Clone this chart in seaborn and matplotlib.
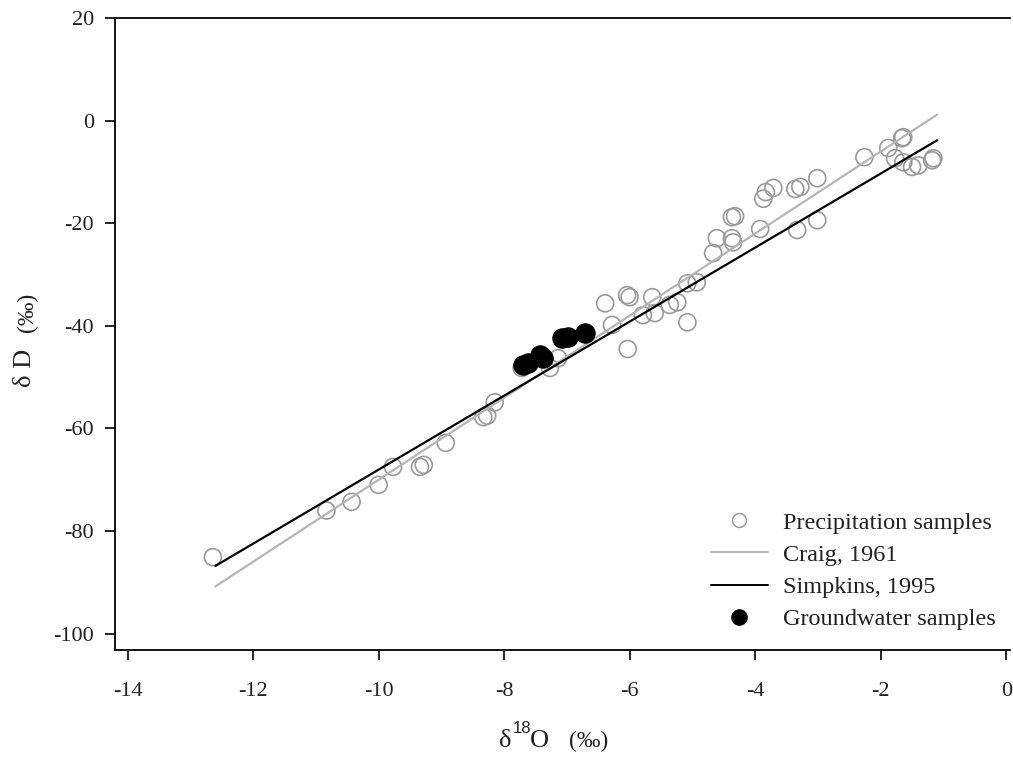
import matplotlib
matplotlib.use("Agg")
import matplotlib.pyplot as plt
import seaborn as sns
import pandas as pd
from matplotlib.lines import Line2D

# Precipitation samples (d18O, dD)
precip_o18 = [-12.64, -10.83, -10.43, -10.0, -9.77, -9.34, -9.28, -8.93, -8.33, -8.27,
              -8.15, -7.72, -7.27, -7.14, -6.39, -6.28, -6.03, -6.04, -6.0, -5.64,
              -5.79, -5.6, -5.36, -5.24, -5.08, -4.93, -5.08, -4.67, -4.61, -4.37,
              -4.37, -4.32, -4.35, -3.92, -3.87, -3.83, -3.71, -3.33, -3.36, -3.28,
              -3.01, -3.01, -2.26, -1.88, -1.77, -1.66, -1.64, -1.64, -1.5, -1.4,
              -1.18, -1.16]
precip_d = [-85.1, -76.0, -74.3, -71.0, -67.5, -67.5, -67.1, -62.8, -57.8, -57.5,
            -54.9, -48.2, -48.2, -46.3, -35.6, -39.8, -44.5, -34.0, -34.4, -34.4,
            -37.9, -37.5, -35.9, -35.4, -39.3, -31.5, -31.7, -25.8, -22.9, -22.9,
            -18.8, -18.6, -23.7, -21.1, -15.2, -13.9, -13.1, -21.3, -13.3, -12.9,
            -19.4, -11.2, -7.1, -5.3, -7.3, -3.4, -3.2, -8.1, -9.0, -8.7,
            -7.7, -7.3]

# Groundwater samples
gw_o18 = [-7.70, -7.62, -7.43, -7.38, -7.08, -6.98, -6.71]
gw_d = [-47.6, -47.3, -45.7, -46.3, -42.4, -42.2, -41.4]

# Meteoric water lines (end points as drawn)
craig_o18 = [-12.6, -1.1]
craig_d = [-90.8, 1.2]
simpkins_o18 = [-12.6, -1.1]
simpkins_d = [-86.8, -3.8]

sns.set_theme(style="ticks")
plt.rcParams['font.family'] = ['Liberation Serif', 'DejaVu Serif']
plt.rcParams['axes.unicode_minus'] = False

fig = plt.figure(figsize=(10.13, 7.59), dpi=100)
ax = fig.add_axes([0.1135, 0.1436, 0.8835, 0.8324])

precip = pd.DataFrame({'o18': precip_o18, 'd': precip_d})
gw = pd.DataFrame({'o18': gw_o18, 'd': gw_d})
craig = pd.DataFrame({'o18': craig_o18, 'd': craig_d})
simp = pd.DataFrame({'o18': simpkins_o18, 'd': simpkins_d})

sns.scatterplot(data=precip, x='o18', y='d', marker='o', s=150,
                facecolor='none', edgecolor='#9a9a9a', linewidth=1.2, ax=ax, zorder=2)
sns.lineplot(data=craig, x='o18', y='d', color='#b5b5b5', linewidth=1.6, ax=ax, zorder=3)
sns.lineplot(data=simp, x='o18', y='d', color='black', linewidth=1.6, ax=ax, zorder=4)
sns.scatterplot(data=gw, x='o18', y='d', marker='o', s=200,
                color='black', edgecolor='black', linewidth=0.5, ax=ax, zorder=5)

ax.set_xlim(-14.2, 0.06)
ax.set_ylim(-103.2, 20)
ax.set_xticks(range(-14, 1, 2))
ax.set_yticks(range(-100, 21, 20))
ax.tick_params(direction='out', length=7, width=1.2, labelsize=16, color='black',
               labelcolor='#222222', pad=8)
ax.tick_params(axis='x', pad=16)
for side in ['left', 'bottom', 'top']:
    ax.spines[side].set_linewidth(1.3)
    ax.spines[side].set_color('black')
ax.spines['right'].set_visible(False)
ax.set_xlabel('')
ax.set_ylabel('')

# axis titles built from pieces (serif delta/O, sans superscript, per-mil unit)
tc = '#222222'
fig.text(0.493, 0.0158, 'δ', fontsize=19, ha='left', va='baseline', color=tc)
fig.text(0.5065, 0.0340, '18', fontsize=12, ha='left', va='baseline', color=tc,
         family=['Liberation Sans', 'DejaVu Sans'])
fig.text(0.5235, 0.0158, 'O', fontsize=19, ha='left', va='baseline', color=tc)
fig.text(0.562, 0.0158, '(‰)', fontsize=17, ha='left', va='baseline', color=tc)
fig.text(0.025, 0.515, 'δ D', fontsize=19, ha='center', va='center', rotation=90, color=tc)
fig.text(0.027, 0.588, '(‰)', fontsize=17, ha='center', va='center', rotation=90, color=tc)

handles = [
    Line2D([], [], marker='o', linestyle='none', markersize=10, markerfacecolor='none',
           markeredgecolor='#9a9a9a', markeredgewidth=1.1),
    Line2D([], [], color='#b5b5b5', linewidth=1.4),
    Line2D([], [], color='black', linewidth=1.4),
    Line2D([], [], marker='o', linestyle='none', markersize=11, color='black'),
]
labels = ['Precipitation samples', 'Craig, 1961', 'Simpkins, 1995', 'Groundwater samples']
ax.legend(handles, labels, loc='lower right', bbox_to_anchor=(1.0, 0.008), frameon=False,
          fontsize=17.5, handlelength=2.35, handletextpad=0.6, labelspacing=0.42,
          borderaxespad=0.2, labelcolor=tc)

fig.savefig('out.png', dpi=100)
